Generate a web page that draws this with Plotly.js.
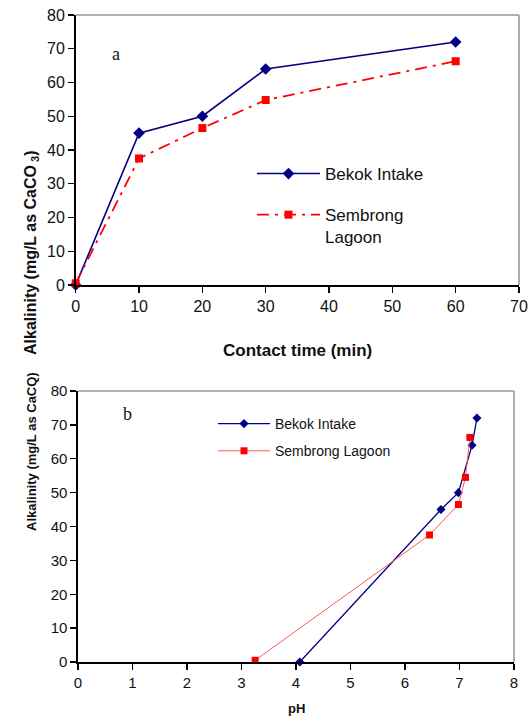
<!DOCTYPE html>
<html>
<head>
<meta charset="utf-8">
<script src="https://cdn.plot.ly/plotly-3.0.1.min.js"></script>
<style>html,body{margin:0;padding:0;background:#fff;}#chart{width:530px;height:728px;}</style>
</head>
<body>
<div id="chart"></div>
<script>
// Chart a: alkalinity vs contact time
const contactTime = [0, 10, 20, 30, 60];
const bekokAlkA = [0, 45, 50, 64, 72];
const sembrongAlkA = [0.5, 37.5, 46.5, 54.8, 66.3];

// Chart b: alkalinity vs pH
const bekokPH = [4.07, 6.66, 6.98, 7.23, 7.32];
const bekokAlkB = [0, 45, 50, 64, 72];
const sembrongPH = [3.25, 6.45, 6.98, 7.11, 7.19];
const sembrongAlkB = [0.5, 37.5, 46.5, 54.5, 66.3];

const seriesNames = ['Bekok Intake', 'Sembrong Lagoon'];
const tickVals = {a: {x: [0,10,20,30,40,50,60,70], y: [0,10,20,30,40,50,60,70,80]},
                  b: {x: [0,1,2,3,4,5,6,7,8], y: [0,10,20,30,40,50,60,70,80]}};

const W = 530, H = 728;
const px = v => v / W;
const py = v => 1 - v / H;
const FONT = 'Liberation Sans, Arial, sans-serif';

const traces = [
  {x: contactTime, y: bekokAlkA, name: seriesNames[0], xaxis: 'x', yaxis: 'y', legend: 'legend', legendgroup: 'a1',
   mode: 'lines+markers', cliponaxis: false,
   line: {color: '#000080', width: 1.6}, marker: {symbol: 'diamond', size: 9, color: '#000080'}},
  {x: contactTime, y: sembrongAlkA, name: 'Sembrong<br>Lagoon', xaxis: 'x', yaxis: 'y', legend: 'legend', legendgroup: 'a2',
   mode: 'lines+markers', cliponaxis: false,
   line: {color: '#ff0000', width: 1.8, dash: '12px,6px,3px,6px'}, marker: {symbol: 'square', size: 8, color: '#ff0000'}},
  {x: bekokPH, y: bekokAlkB, name: seriesNames[0], xaxis: 'x2', yaxis: 'y2', legend: 'legend2', legendgroup: 'b1',
   mode: 'lines+markers', cliponaxis: false,
   line: {color: '#000080', width: 1.3}, marker: {symbol: 'diamond', size: 7, color: '#000080'}},
  {x: sembrongPH, y: sembrongAlkB, name: seriesNames[1], xaxis: 'x2', yaxis: 'y2', legend: 'legend2', legendgroup: 'b2',
   mode: 'lines+markers', cliponaxis: false,
   line: {color: '#ff5a5a', width: 1}, marker: {symbol: 'square', size: 7, color: '#ff0000'}}
];

const axisCommon = {showgrid: false, zeroline: false, showline: true, linecolor: '#000', linewidth: 1.6,
  ticks: 'outside', ticklen: 6, tickwidth: 1.3, tickcolor: '#000', fixedrange: true,
  tickfont: {family: FONT, size: 16, color: '#111'}};

const layout = {
  width: W, height: H,
  margin: {l: 0, r: 0, t: 0, b: 0},
  paper_bgcolor: '#fff', plot_bgcolor: '#fff',
  font: {family: FONT, color: '#111'},
  xaxis: Object.assign({}, axisCommon, {domain: [px(75.7), px(519)], range: [0, 70], tickvals: tickVals.a.x, anchor: 'y'}),
  yaxis: Object.assign({}, axisCommon, {domain: [py(285), py(15)], range: [0, 80], tickvals: tickVals.a.y, anchor: 'x'}),
  xaxis2: Object.assign({}, axisCommon, {domain: [px(78), px(514)], range: [0, 8], tickvals: tickVals.b.x, anchor: 'y2',
    tickfont: {family: FONT, size: 15, color: '#111'}}),
  yaxis2: Object.assign({}, axisCommon, {domain: [py(662), py(391)], range: [0, 80], tickvals: tickVals.b.y, anchor: 'x2',
    tickfont: {family: FONT, size: 15, color: '#111'}}),
  showlegend: true,
  legend: {x: px(252), y: py(156), xanchor: 'left', yanchor: 'top', bgcolor: 'rgba(0,0,0,0)', borderwidth: 0,
    font: {family: FONT, size: 17, color: '#111'}, tracegroupgap: 16, valign: 'top', itemwidth: 63},
  legend2: {x: px(213), y: py(408), xanchor: 'left', yanchor: 'top', bgcolor: 'rgba(0,0,0,0)', borderwidth: 0,
    font: {family: FONT, size: 14, color: '#111'}, tracegroupgap: 6, itemwidth: 52},
  shapes: [
    {type: 'line', xref: 'x domain', yref: 'y domain', x0: 0, x1: 1, y0: 1, y1: 1, line: {color: '#999', width: 1.6}},
    {type: 'line', xref: 'x domain', yref: 'y domain', x0: 1, x1: 1, y0: 0, y1: 1, line: {color: '#999', width: 1.6}},
    {type: 'line', xref: 'x2 domain', yref: 'y2 domain', x0: 0, x1: 1, y0: 1, y1: 1, line: {color: '#999', width: 1.6}},
    {type: 'line', xref: 'x2 domain', yref: 'y2 domain', x0: 1, x1: 1, y0: 0, y1: 1, line: {color: '#999', width: 1.6}}
  ],
  annotations: [
    {text: '<b>Alkalinity (mg/L as CaCO<sub> 3</sub>)</b>', xref: 'paper', yref: 'paper', x: px(20), y: py(148),
     textangle: -90, showarrow: false, font: {family: FONT, size: 16, color: '#111'}},
    {text: '<b>Contact time (min)</b>', xref: 'paper', yref: 'paper', x: px(297), y: py(350),
     showarrow: false, font: {family: FONT, size: 17, color: '#111'}},
    {text: 'a', xref: 'paper', yref: 'paper', x: px(110), y: py(42),
     showarrow: false, font: {family: 'Liberation Serif, Times New Roman, serif', size: 18, color: '#111'}},
    {text: '<b>Alkalinity (mg/L as CaCQ)</b>', xref: 'paper', yref: 'paper', x: px(22), y: py(533),
     textangle: -90, showarrow: false, font: {family: FONT, size: 13, color: '#111'}},
    {text: '<b>pH</b>', xref: 'paper', yref: 'paper', x: px(296), y: py(718),
     showarrow: false, font: {family: FONT, size: 13, color: '#111'}},
    {text: 'b', xref: 'paper', yref: 'paper', x: px(121), y: py(414),
     showarrow: false, font: {family: 'Liberation Serif, Times New Roman, serif', size: 18, color: '#111'}}
  ]
};

Plotly.newPlot('chart', traces, layout, {displayModeBar: false, staticPlot: true});
</script>
</body>
</html>
